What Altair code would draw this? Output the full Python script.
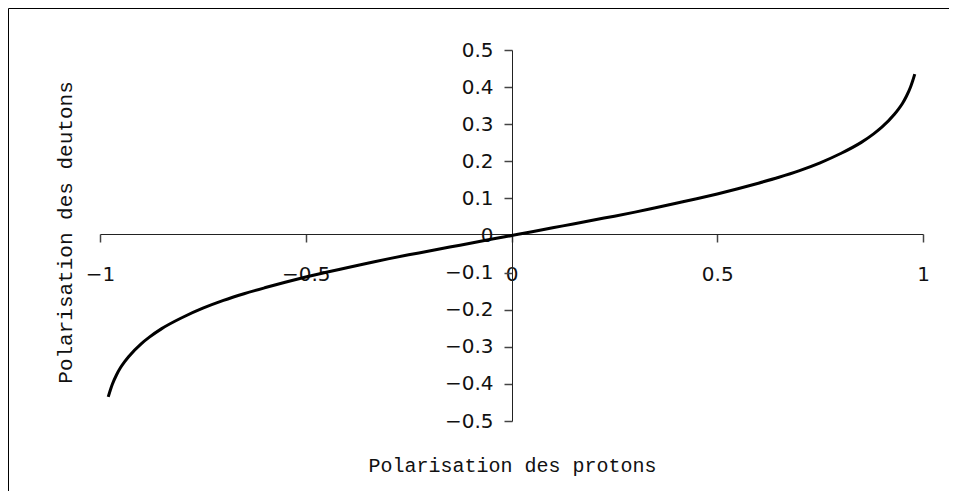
import altair as alt
import pandas as pd

# Values
proton = [-0.98, -0.975, -0.97, -0.96, -0.95, -0.94, -0.93, -0.90, -0.88, -0.85,
          -0.80, -0.75, -0.70, -0.65, -0.60, -0.55, -0.50, -0.45, -0.40, -0.35,
          -0.30, -0.25, -0.20, -0.15, -0.10, -0.05, 0.0,
          0.05, 0.10, 0.15, 0.20, 0.25, 0.30, 0.35, 0.40, 0.45, 0.50,
          0.55, 0.60, 0.65, 0.70, 0.75, 0.80, 0.85, 0.88, 0.90,
          0.93, 0.94, 0.95, 0.96, 0.97, 0.975, 0.98]
deuton = [-0.435, -0.417, -0.401, -0.376, -0.356, -0.340, -0.326, -0.292, -0.274, -0.251,
          -0.221, -0.196, -0.175, -0.157, -0.141, -0.126, -0.112, -0.099, -0.087, -0.075,
          -0.063, -0.052, -0.042, -0.031, -0.021, -0.010, 0.0,
          0.010, 0.021, 0.031, 0.042, 0.052, 0.063, 0.075, 0.087, 0.099, 0.112,
          0.126, 0.141, 0.157, 0.175, 0.196, 0.221, 0.251, 0.274, 0.292,
          0.326, 0.340, 0.356, 0.376, 0.401, 0.417, 0.435]

x_ticks = [-1, -0.5, 0, 0.5, 1]
y_ticks = [-0.5, -0.4, -0.3, -0.2, -0.1, 0, 0.1, 0.2, 0.3, 0.4, 0.5]

df = pd.DataFrame({"p": proton, "d": deuton})

W, H = 941, 483
X0 = 504   # pixel of x = 0 inside the view
Y0 = 226   # pixel of y = 0 inside the view

tick_font = "DejaVu Sans"
title_font = "Liberation Mono"

chart = alt.Chart(df).mark_line(color="black", strokeWidth=3, interpolate="monotone").encode(
    x=alt.X("p:Q",
            scale=alt.Scale(domain=[-1, 1], range=[92, 915], nice=False, zero=False),
            axis=alt.Axis(values=x_ticks, orient="bottom", offset=Y0 - H,
                          grid=False, domainColor="#222", tickColor="#444",
                          tickWidth=1.5, tickSize=8, labelPadding=22, labelFont=tick_font,
                          labelFontSize=20, labelColor="#111", labelFlush=False,
                          format="~g",
                          title="Polarisation des protons", titleFont=title_font,
                          titleFontSize=20, titleFontWeight="normal", titleColor="#111",
                          titleX=504, titleY=231, titleBaseline="middle",
                          titleAlign="center")),
    y=alt.Y("d:Q",
            scale=alt.Scale(domain=[-0.5, 0.5], range=[413, 42], nice=False, zero=False),
            axis=alt.Axis(values=y_ticks, orient="left", offset=-X0,
                          grid=False, domainColor="#222", tickColor="#444",
                          tickWidth=1.5, tickSize=8, labelPadding=11, labelFont=tick_font,
                          labelFontSize=20, labelColor="#111", labelFlush=False,
                          format="~g",
                          title="Polarisation des deutons", titleFont=title_font,
                          titleFontSize=21, titleFontWeight="normal", titleColor="#111",
                          titleX=-447, titleY=224, titleAngle=-90,
                          titleBaseline="middle", titleAlign="center")),
    order="p:Q",
).properties(
    width=W, height=H,
    autosize=alt.AutoSizeParams(type="none"),
    padding=0,
    background="white",
).configure_view(
    stroke="black", strokeWidth=1, fill="white"
)

chart.save("out.html", embed_options={"renderer": "svg", "actions": False})
